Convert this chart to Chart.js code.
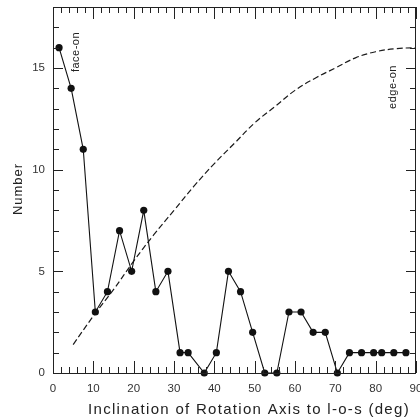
<!DOCTYPE html>
<html>
<head>
<meta charset="utf-8">
<script src="https://cdn.jsdelivr.net/npm/chart.js@4"></script>
<style>
  html, body { margin: 0; padding: 0; background: #fff; overflow: hidden; }
  #wrap { width: 420px; height: 418px; }
</style>
</head>
<body>
<div id="wrap"><canvas id="incChart" width="420" height="418"></canvas></div>
<script>
// histogram of inclinations (bin centres, deg) and counts
const inclination = [1.5, 4.5, 7.5, 10.5, 13.5, 16.5, 19.5, 22.5, 25.5, 28.5,
    31.5, 33.5, 37.5, 40.5, 43.5, 46.5, 49.5, 52.5, 55.5, 58.5,
    61.5, 64.5, 67.5, 70.5, 73.5, 76.5, 79.5, 81.5, 84.5, 87.5];
const counts = [16, 14, 11, 3, 4, 7, 5, 8, 4, 5,
    1, 1, 0, 1, 5, 4, 2, 0, 0, 3,
    3, 2, 2, 0, 1, 1, 1, 1, 1, 1];

// expected distribution for random orientations
const curveAngle = [5, 10, 15, 20, 25, 30, 35, 40, 45, 50, 55, 60, 65, 70, 75, 80, 85, 90];
const curveValue = [1.4, 2.8, 4.1, 5.5, 6.8, 8.0, 9.2, 10.3, 11.3, 12.3, 13.1, 13.9, 14.5, 15.0, 15.5, 15.8, 15.95, 16.0];

const xTickLabels = [0, 10, 20, 30, 40, 50, 60, 70, 80, 90];
const yTickLabels = [0, 5, 10, 15];

const xTitle = 'Inclination of Rotation Axis to l-o-s (deg)';
const yTitle = 'Number';

const FONT = '"Liberation Sans", Arial, Helvetica, sans-serif';

// inward ticks on all four sides plus the top/right frame, and the text labels
const framePlugin = {
    id: 'frame',
    afterDraw(chart) {
        const { ctx, chartArea: a, scales: { x, y } } = chart;
        ctx.save();
        ctx.strokeStyle = '#222';
        ctx.lineWidth = 1;
        ctx.beginPath();
        ctx.rect(a.left + 0.5, a.top + 0.5, a.right - a.left - 1, a.bottom - a.top);
        for (let v = 0; v <= 90; v += 2) {
            const px = Math.round(x.getPixelForValue(v)) + 0.5;
            const len = v % 10 === 0 ? 12 : 6;
            ctx.moveTo(px, a.bottom); ctx.lineTo(px, a.bottom - len);
            ctx.moveTo(px, a.top); ctx.lineTo(px, a.top + len);
        }
        for (let v = 0; v <= 18; v += 1) {
            const py = Math.round(y.getPixelForValue(v)) + 0.5;
            const len = v % 5 === 0 ? 10 : 6;
            ctx.moveTo(a.left, py); ctx.lineTo(a.left + len, py);
            ctx.moveTo(a.right, py); ctx.lineTo(a.right - len, py);
        }
        ctx.stroke();

        ctx.fillStyle = '#222';
        ctx.textAlign = 'center';
        ctx.textBaseline = 'middle';

        ctx.letterSpacing = '1.3px';
        ctx.font = '15px ' + FONT;
        ctx.fillText(xTitle, 249, 410);

        ctx.letterSpacing = '1px';
        ctx.font = '13px ' + FONT;
        ctx.save();
        ctx.translate(18, 189);
        ctx.rotate(-Math.PI / 2);
        ctx.fillText(yTitle, 0, 0);
        ctx.restore();

        ctx.letterSpacing = '0.5px';
        ctx.font = '11px ' + FONT;
        ctx.save();
        ctx.translate(76, 52);
        ctx.rotate(-Math.PI / 2);
        ctx.fillText('face-on', 0, 0);
        ctx.restore();
        ctx.save();
        ctx.translate(393, 87);
        ctx.rotate(-Math.PI / 2);
        ctx.fillText('edge-on', 0, 0);
        ctx.restore();
        ctx.restore();
    }
};

new Chart(document.getElementById('incChart'), {
    type: 'scatter',
    data: {
        datasets: [
            {
                label: 'observed',
                data: inclination.map((v, i) => ({ x: v, y: counts[i] })),
                showLine: true,
                borderColor: '#111',
                borderWidth: 1.1,
                backgroundColor: '#111',
                pointRadius: 3.6,
                pointBorderWidth: 0,
                clip: false,
                order: 1
            },
            {
                label: 'random',
                data: curveAngle.map((v, i) => ({ x: v, y: curveValue[i] })),
                showLine: true,
                borderColor: '#1a1a1a',
                borderWidth: 1.2,
                borderDash: [6, 3],
                pointRadius: 0,
                tension: 0.4,
                clip: false,
                order: 2
            }
        ]
    },
    options: {
        responsive: false,
        animation: false,
        events: [],
        layout: { padding: { top: 7, right: 1, left: 0, bottom: 0 } },
        plugins: { legend: { display: false }, tooltip: { enabled: false } },
        scales: {
            x: {
                type: 'linear',
                min: 0,
                max: 90,
                grid: { display: false, drawTicks: false },
                border: { display: false },
                ticks: {
                    stepSize: 10,
                    padding: 9,
                    color: '#333',
                    font: { family: FONT, size: 11.5 },
                    callback: v => xTickLabels.includes(v) ? String(v) : ''
                },
                afterFit(scale) {
                    scale.height = 45;
                    scale.paddingLeft = 0;
                    scale.paddingRight = 0;
                }
            },
            y: {
                type: 'linear',
                min: 0,
                max: 18,
                grid: { display: false, drawTicks: false },
                border: { display: false },
                ticks: {
                    stepSize: 5,
                    includeBounds: false,
                    padding: 8,
                    color: '#333',
                    font: { family: FONT, size: 11.5 },
                    callback: v => yTickLabels.includes(v) ? String(v) : ''
                },
                afterFit(scale) {
                    scale.width = 53;
                    scale.paddingTop = 0;
                    scale.paddingBottom = 0;
                }
            }
        }
    },
    plugins: [framePlugin]
});
</script>
</body>
</html>
